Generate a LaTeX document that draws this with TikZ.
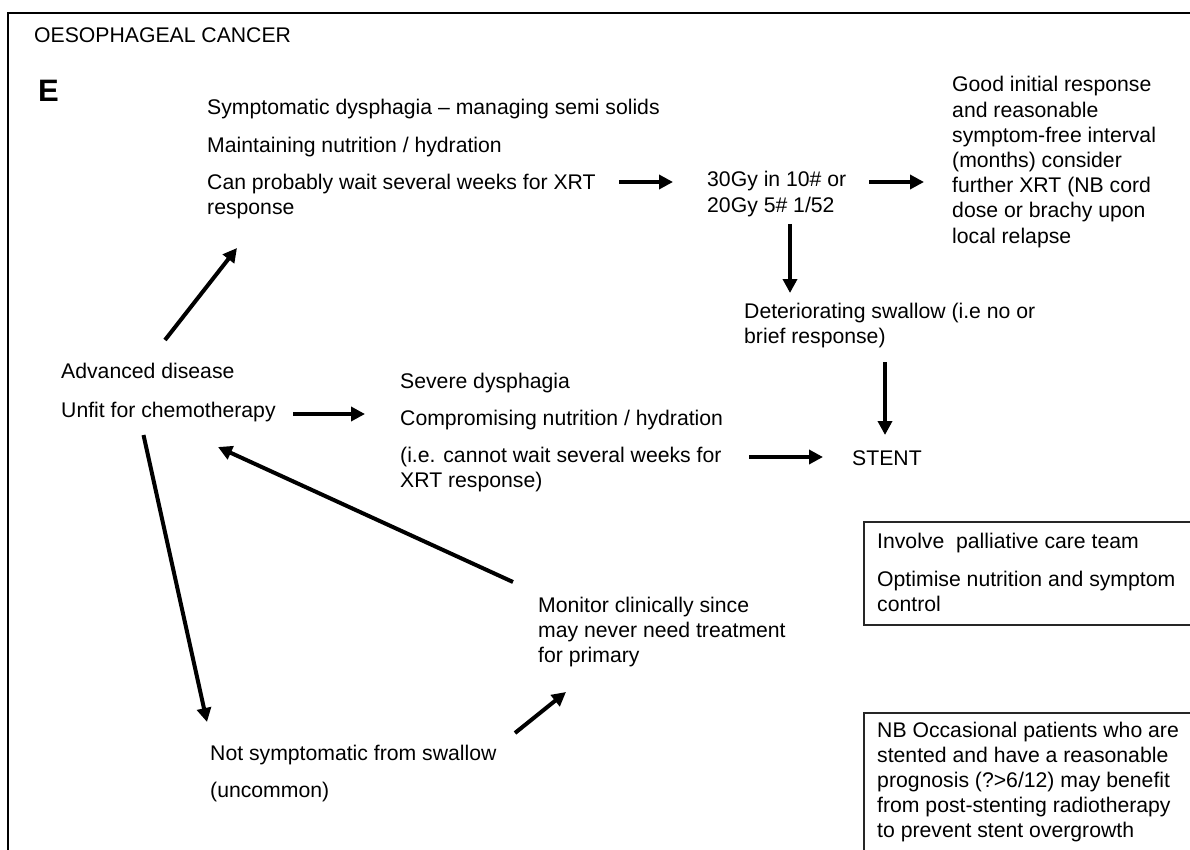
\documentclass[tikz,border=0pt]{standalone}
\usepackage{fontspec}
\setmainfont{Liberation Sans}
\usetikzlibrary{arrows.meta}
\begin{document}
\begin{tikzpicture}[x=1pt,y=-1pt,
  txt/.style={anchor=base west, inner sep=0pt, font=\fontsize{21.2pt}{25.2pt}\selectfont},
  arr/.style={line width=4pt, -{Triangle[length=14pt,width=14pt]}},
  panel/.style={draw=black!85, line width=1.5pt, anchor=north west, inner sep=0pt, minimum width=400pt},
]
\useasboundingbox (0,0) rectangle (1190,850);
\clip (0,0) rectangle (1190,850);
% outer frame
\draw[line width=2pt] (8.4,900) -- (8.4,13.3) -- (1250,13.3);

% texts
\node[txt] (title) at (34,43) {OESOPHAGEAL CANCER};
\node[anchor=base west, inner sep=0pt, font=\fontsize{31pt}{31pt}\selectfont\bfseries] (E) at (38,101.7) {E};
\node[txt] (symp) at (207,115) {\begin{tabular}[t]{@{}l@{}}Symptomatic dysphagia – managing semi solids\\[12pt] Maintaining nutrition / hydration\\[12pt] Can probably wait several weeks for XRT\\ response\end{tabular}};
\node[txt] (dose) at (707,187) {\begin{tabular}[t]{@{}l@{}}30Gy in 10\# or\\ 20Gy 5\# 1/52\end{tabular}};
\node[txt] (good) at (952,92) {\begin{tabular}[t]{@{}l@{}}Good initial response\\ and reasonable\\ symptom-free interval\\ (months) consider\\ further XRT (NB cord\\ dose or brachy upon\\ local relapse\end{tabular}};
\node[txt] (det) at (744,318) {\begin{tabular}[t]{@{}l@{}}Deteriorating swallow (i.e no or\\ brief response)\end{tabular}};
\node[txt] (adv) at (61,378) {\begin{tabular}[t]{@{}l@{}}Advanced disease\\[13.8pt] Unfit for chemotherapy\end{tabular}};
\node[txt] (severe) at (400,388) {\begin{tabular}[t]{@{}l@{}}Severe dysphagia\\[12pt] Compromising nutrition / hydration\\[12pt] (i.e. cannot wait several weeks for\\ XRT response)\end{tabular}};
\node[txt] (stent) at (852,465) {STENT};
\node[txt] (monitor) at (538,612) {\begin{tabular}[t]{@{}l@{}}Monitor clinically since\\ may never need treatment\\ for primary\end{tabular}};
\node[txt] (notsym) at (210,760) {\begin{tabular}[t]{@{}l@{}}Not symptomatic from swallow\\[12pt] (uncommon)\end{tabular}};

% boxes
\node[panel, minimum height=103pt] (box1) at (863,521) {};
\node[txt] (pall) at (877,548) {\begin{tabular}[t]{@{}l@{}}Involve\ \ palliative care team\\[12.8pt] Optimise nutrition and symptom\\ control\end{tabular}};
\node[panel, minimum height=200pt] (box2) at (863,712) {};
\node[txt] (nb) at (877,737) {\begin{tabular}[t]{@{}l@{}}NB Occasional patients who are\\ stented and have a reasonable\\ prognosis (?>6/12) may benefit\\ from post-stenting radiotherapy\\ to prevent stent overgrowth\end{tabular}};

% arrow end points
\coordinate (a1s) at (165,340);   \coordinate (a1e) at (237,248);
\coordinate (a2s) at (619,182);   \coordinate (a2e) at (673,182);
\coordinate (a3s) at (869,182);   \coordinate (a3e) at (924,182);
\coordinate (a4s) at (790,224);   \coordinate (a4e) at (790,293);
\coordinate (a5s) at (885,362);   \coordinate (a5e) at (885,435);
\coordinate (a6s) at (749,457);   \coordinate (a6e) at (823,457);
\coordinate (a7s) at (293,414);   \coordinate (a7e) at (365,414);
\coordinate (a8s) at (143.5,435); \coordinate (a8e) at (207,722);
\coordinate (a9s) at (513,582);   \coordinate (a9e) at (218,447);
\coordinate (a10s) at (515,733);  \coordinate (a10e) at (566,692);

\draw[arr] (a1s) -- (a1e);
\draw[arr] (a2s) -- (a2e);
\draw[arr] (a3s) -- (a3e);
\draw[arr] (a4s) -- (a4e);
\draw[arr] (a5s) -- (a5e);
\draw[arr] (a6s) -- (a6e);
\draw[arr] (a7s) -- (a7e);
\draw[arr] (a8s) -- (a8e);
\draw[arr] (a9s) -- (a9e);
\draw[arr] (a10s) -- (a10e);
\end{tikzpicture}
\end{document}
